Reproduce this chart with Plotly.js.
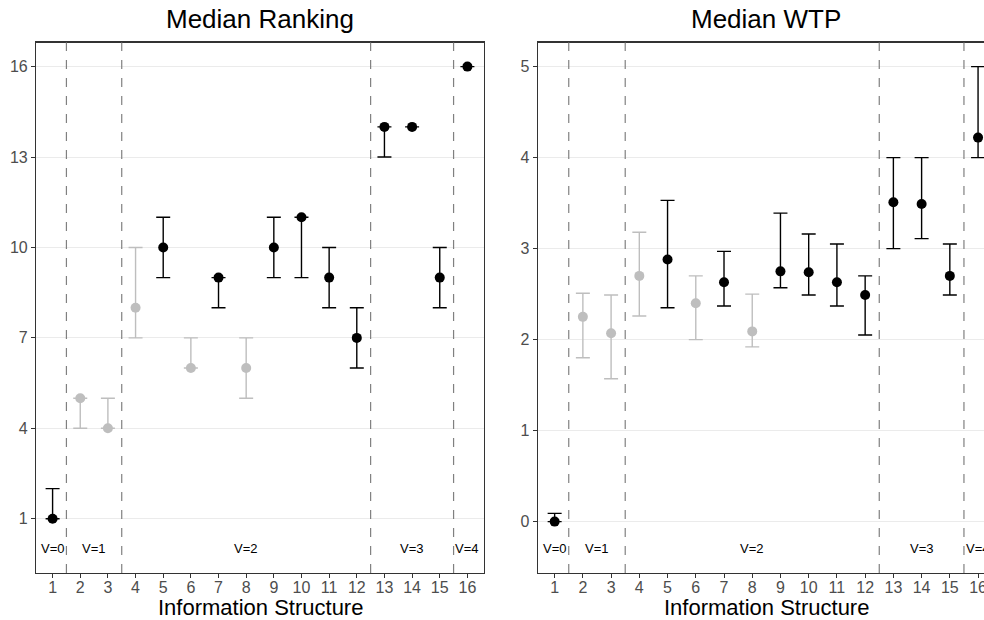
<!DOCTYPE html>
<html>
<head>
<meta charset="utf-8">
<script src="https://cdn.plot.ly/plotly-3.0.1.min.js"></script>
<style>
html, body { margin:0; padding:0; overflow:hidden; background:#fff; }
#chart { width:1000px; height:620px; }
</style>
</head>
<body>
<div id="chart"></div>
<script>
// ---- data ----
const structures = [1,2,3,4,5,6,7,8,9,10,11,12,13,14,15,16];
const groupFlag = ['black','gray','gray','gray','black','gray','black','gray','black','black','black','black','black','black','black','black'];

const rankMedian = [1,5,4,8,10,6,9,6,10,11,9,7,14,14,9,16];
const rankLow    = [1,4,4,7,9,6,8,5,9,9,8,6,13,14,8,16];
const rankHigh   = [2,5,5,10,11,7,9,7,11,11,10,8,14,14,10,16];

const wtpMedian = [0,2.25,2.07,2.70,2.88,2.40,2.63,2.09,2.75,2.74,2.63,2.49,3.51,3.49,2.70,4.22];
const wtpLow    = [0,1.80,1.57,2.26,2.35,2.00,2.37,1.92,2.57,2.49,2.37,2.05,3.00,3.11,2.49,4.00];
const wtpHigh   = [0.09,2.51,2.49,3.18,3.53,2.70,2.97,2.50,3.39,3.16,3.05,2.70,4.00,4.00,3.05,5.00];

const vLabels = ['V=0','V=1','V=2','V=3','V=4'];
const vLabelX = [1,2.5,8,14,16];
const rankLabelY = 0;
const wtpLabelY = -0.3;
const dividers = [1.5,3.5,12.5,15.5];

const rankTicks = [1,4,7,10,13,16];
const wtpTicks = [0,1,2,3,4,5];
const panelTitles = ['Median Ranking','Median WTP'];
const xTitle = 'Information Structure';

// ---- build ----
const FONT = 'Liberation Sans, Arial, sans-serif';
const colors = {black:'#000000', gray:'#bebebe'};
const W = 1000, H = 620;
const traces = [];
function addTraces(med, lo, hi, xa, ya) {
  ['gray','black'].forEach(g => {
    const xs=[], ys=[], ep=[], em=[];
    structures.forEach((s,i) => {
      if (groupFlag[i] === g) {
        xs.push(s); ys.push(med[i]);
        ep.push(hi[i]-med[i]); em.push(med[i]-lo[i]);
      }
    });
    traces.push({
      type:'scatter', mode:'markers', x:xs, y:ys, xaxis:xa, yaxis:ya,
      marker:{color:colors[g], size:10},
      error_y:{type:'data', symmetric:false, array:ep, arrayminus:em,
               color:colors[g], thickness:1.4, width:7},
      showlegend:false, hoverinfo:'x+y'
    });
  });
}
addTraces(rankMedian, rankLow, rankHigh, 'x', 'y');
addTraces(wtpMedian, wtpLow, wtpHigh, 'x2', 'y2');

const yDom = [47/H, (H-42.5)/H];
const tickFont = {family:FONT, size:16, color:'#4d4d4d'};
const titleFont = {family:FONT, size:22, color:'#000'};

function xaxis(dom, anchor) {
  return {
    domain:dom, anchor:anchor, range:[0.4,16.6], tickvals:structures,
    ticktext:structures.map(String), showgrid:false, zeroline:false,
    showline:true, mirror:true, linecolor:'#333333', linewidth:1.1,
    ticks:'outside', ticklen:4, tickcolor:'#333333', tickwidth:1,
    ticklabelstandoff:-4, tickfont:tickFont
  };
}
function yaxis(range, ticks, anchor) {
  return {
    domain:yDom, anchor:anchor, range:range, tickvals:ticks,
    ticktext:ticks.map(String), showgrid:true, gridcolor:'#ebebeb', gridwidth:1,
    zeroline:false, showline:true, mirror:true, linecolor:'#333333', linewidth:1.1,
    ticks:'outside', ticklen:4, tickcolor:'#333333', tickwidth:1, tickfont:tickFont
  };
}

const shapes = [];
[['x','y'],['x2','y2']].forEach(([xa,ya]) => {
  dividers.forEach(d => shapes.push({
    type:'line', xref:xa, yref:ya+' domain', x0:d, x1:d, y0:0, y1:1,
    line:{color:'#808080', width:1.2, dash:'dash'}, layer:'above'
  }));
});

const annotations = [];
vLabels.forEach((t,i) => {
  annotations.push({xref:'x', yref:'y', x:vLabelX[i], y:rankLabelY, text:t, showarrow:false,
    xanchor:'center', yanchor:'middle', font:{family:FONT, size:13, color:'#000'}});
  annotations.push({xref:'x2', yref:'y2', x:vLabelX[i], y:wtpLabelY, text:t, showarrow:false,
    xanchor:'center', yanchor:'middle', font:{family:FONT, size:13, color:'#000'}});
});
const xDom1 = [36/W, 484/W], xDom2 = [537.7/W, 995/W];
[xDom1, xDom2].forEach((dom, k) => {
  annotations.push({xref:'paper', yref:'paper', x:(dom[0]+dom[1])/2, y:(H-19)/H, yanchor:'middle', xanchor:'center',
    text:panelTitles[k], showarrow:false, font:{family:FONT, size:26, color:'#000'}});
  annotations.push({xref:'paper', yref:'paper', x:(dom[0]+dom[1])/2, y:(H-607)/H, yanchor:'middle', xanchor:'center',
    text:xTitle, showarrow:false, font:titleFont});
});

const layout = {
  width:W, height:H, margin:{l:0,r:0,t:0,b:0},
  paper_bgcolor:'#fff', plot_bgcolor:'#fff',
  xaxis:xaxis(xDom1,'y'), yaxis:yaxis([-0.8,16.8], rankTicks, 'x'),
  xaxis2:xaxis(xDom2,'y2'), yaxis2:yaxis([-0.565,5.265], wtpTicks, 'x2'),
  shapes:shapes, annotations:annotations, showlegend:false
};
Plotly.newPlot('chart', traces, layout, {displayModeBar:false, staticPlot:true});
</script>
</body>
</html>
